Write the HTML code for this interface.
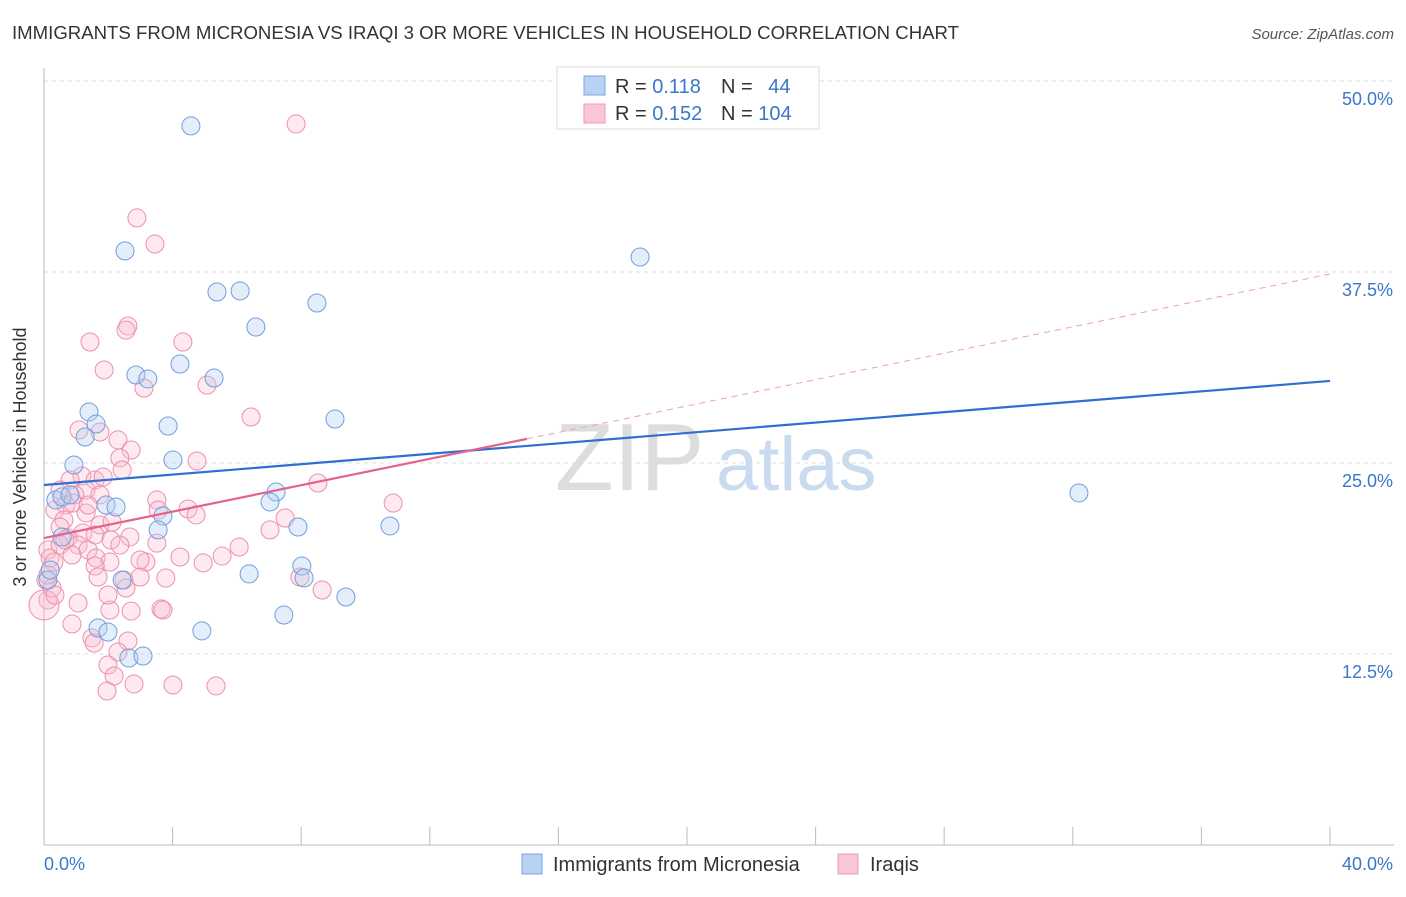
<!DOCTYPE html>
<html><head><meta charset="utf-8"><style>
body{margin:0;background:#fff;font-family:"Liberation Sans",sans-serif;}
svg text{font-family:"Liberation Sans",sans-serif;}
</style></head><body>
<svg id="chart" width="1406" height="892">
<text x="12" y="39" font-size="18" fill="#333" textLength="947" lengthAdjust="spacingAndGlyphs">IMMIGRANTS FROM MICRONESIA VS IRAQI 3 OR MORE VEHICLES IN HOUSEHOLD CORRELATION CHART</text>
<text x="1394" y="39" font-size="15" fill="#555" font-style="italic" text-anchor="end">Source: ZipAtlas.com</text>
<text x="26" y="457" font-size="18" fill="#333" text-anchor="middle" transform="rotate(-90 26 457)">3 or more Vehicles in Household</text>
<text x="555" y="490" font-size="96" fill="#ddd" font-family="Liberation Serif">ZIP</text>
<text x="716" y="490" font-size="76" fill="#c9dbef">atlas</text>
<g id="grid"></g><g id="axes"></g><g id="pts"></g><g id="lines"></g>
<g>
<rect x="557" y="67" width="262" height="62" fill="#fff" stroke="#ddd"/>
<rect x="584" y="76" width="21" height="19" fill="#b8d2f4" stroke="#7aa6e0"/>
<rect x="584" y="104" width="21" height="19" fill="#f9c6d6" stroke="#ee9ab5"/>
<text x="615" y="93" font-size="20" fill="#333">R = <tspan fill="#3a77c8">0.118</tspan></text>
<text x="721" y="93" font-size="20" fill="#333">N = <tspan fill="#3a77c8" dx="10">44</tspan></text>
<text x="615" y="120" font-size="20" fill="#333">R = <tspan fill="#3a77c8">0.152</tspan></text>
<text x="721" y="120" font-size="20" fill="#333">N = <tspan fill="#3a77c8">104</tspan></text>
</g>
<g>
<rect x="522" y="854" width="20" height="20" fill="#b8d2f4" stroke="#7aa6e0"/>
<text x="553" y="871" font-size="20" fill="#333">Immigrants from Micronesia</text>
<rect x="838" y="854" width="20" height="20" fill="#f9c6d6" stroke="#ee9ab5"/>
<text x="870" y="871" font-size="20" fill="#333">Iraqis</text>
</g>
</svg>
<script>
const yTicks=[12.5,25,37.5,50];
const yTickLabels=["12.5%","25.0%","37.5%","50.0%"];
const xTickCount=10;
const blueX=[4.57,2.52,18.54,5.38,6.10,8.49,6.59,4.23,2.86,3.23,5.29,1.40,1.62,3.86,1.28,9.05,0.93,4.01,0.37,0.56,0.81,1.93,2.24,3.70,3.55,7.22,7.03,7.90,10.76,0.56,32.19,8.02,8.09,6.38,2.43,9.39,7.46,4.91,1.68,1.99,2.64,3.08,0.12,0.19];
const blueY=[47.06,38.88,38.48,36.19,36.26,35.47,33.90,31.48,30.76,30.50,30.56,28.34,27.55,27.42,26.70,27.88,24.87,25.20,22.58,22.78,22.91,22.25,22.12,21.53,20.62,23.10,22.45,20.81,20.88,20.16,23.04,18.26,17.48,17.74,17.34,16.23,15.05,14.01,14.20,13.94,12.24,12.37,17.34,18.00];
const pinkX=[7.84,2.89,3.45,2.61,2.55,4.32,1.43,1.87,3.11,5.07,6.44,1.09,1.74,2.30,2.71,2.36,4.76,2.43,1.18,1.59,1.84,0.81,1.31,0.50,0.96,0.68,0.90,3.51,4.48,4.73,3.55,8.52,10.86,0.34,0.62,1.31,0.50,1.74,2.12,1.21,1.59,0.75,1.06,1.37,2.08,2.67,2.36,3.51,7.50,7.03,6.07,5.54,4.23,1.62,2.05,3.17,2.99,3.79,4.95,7.96,8.65,0.12,0.19,0.31,0.06,0.12,0.00,1.59,1.68,2.49,2.55,1.06,0.87,2.05,2.71,3.64,3.70,1.49,1.56,2.61,2.30,1.99,2.18,2.80,1.96,4.01,5.35,0.25,0.34,0.12,0.50,0.87,0.65,1.74,1.37,1.99,2.99];
const pinkY=[47.19,41.04,39.33,33.97,33.70,32.92,32.92,31.09,29.91,30.10,28.01,27.16,27.03,26.51,25.85,25.33,25.13,24.54,24.15,23.89,24.08,23.89,23.23,23.23,22.91,22.25,22.38,22.58,21.99,21.60,21.92,23.69,22.38,21.92,21.27,21.73,20.81,20.94,21.14,20.42,20.29,20.09,19.63,19.31,19.96,20.16,19.63,19.76,21.40,20.62,19.50,18.91,18.85,18.78,18.52,18.52,17.54,17.47,18.46,17.54,16.69,19.31,18.78,18.52,17.34,16.03,15.71,18.26,17.54,17.34,16.82,15.84,14.46,15.38,15.31,15.45,15.38,13.55,13.22,13.35,12.63,11.78,11.06,10.54,10.08,10.47,10.41,16.82,16.36,17.67,19.63,18.98,19.96,22.91,22.25,16.36,18.65];
const blueLine=[23.56,30.37];
const pinkLine=[20.09,37.37];
const pinkSolidEnd=15.02;
const X=v=>44+v/40*1286, Y=v=>845-v/12.5*191;
const NS="http://www.w3.org/2000/svg";
function mk(t,a,p){const e=document.createElementNS(NS,t);for(const k in a)e.setAttribute(k,a[k]);document.getElementById(p).appendChild(e);return e;}
yTicks.forEach((t,i)=>{
 const l=mk('line',{x1:44,x2:1394,y1:Y(t),y2:Y(t),stroke:'#ddd','stroke-dasharray':'4 4'},'grid');
 
 
 const tx=mk('text',{x:1393,y:Y(t)+24,'font-size':18,fill:'#3a77c8','text-anchor':'end'},'grid');
 tx.textContent=yTickLabels[i];
 
 
});
const ax=mk('line',{x1:44,x2:44,y1:68,y2:845,stroke:'#bbb'},'axes');


const bx=mk('line',{x1:44,x2:1394,y1:845,y2:845,stroke:'#bbb'},'axes');


for(let i=0;i<=xTickCount;i++){const t=mk('line',{x1:X(i*4),x2:X(i*4),y1:827,y2:845,stroke:'#bbb'},'axes');
 
 }
[["0.0%",44,'start'],["40.0%",1393,'end']].forEach(([s,x,a])=>{const t=mk('text',{x:x,y:870,'font-size':18,fill:'#3a77c8','text-anchor':a},'axes');t.textContent=s;
 
 });
function pts(xs,ys,fill,stroke,name){xs.forEach((x,i)=>{const r=(x<0.05)?15:9;
 const c=mk('circle',{cx:X(x),cy:Y(ys[i]),r:r,fill:fill,stroke:stroke,'stroke-width':1,'fill-opacity':0.35},'pts');
 
 });}
pts(pinkX,pinkY,'#f9c0d2','#ec8fae','iraqi-point');
pts(blueX,blueY,'#b3cff2','#6f9fdc','micronesia-point');
const bl=mk('line',{x1:X(0),y1:Y(blueLine[0]),x2:X(40),y2:Y(blueLine[1]),stroke:'#2f6fd0','stroke-width':2.2},'lines');


const pe=pinkLine[0]+(pinkLine[1]-pinkLine[0])*pinkSolidEnd/40;
const pl=mk('line',{x1:X(0),y1:Y(pinkLine[0]),x2:X(pinkSolidEnd),y2:Y(pe),stroke:'#e4628f','stroke-width':2.2},'lines');


const pd=mk('line',{x1:X(pinkSolidEnd),y1:Y(pe),x2:X(40),y2:Y(pinkLine[1]),stroke:'#eaa0b8','stroke-width':1,'stroke-dasharray':'6 5'},'lines');


</script>
</body></html>
